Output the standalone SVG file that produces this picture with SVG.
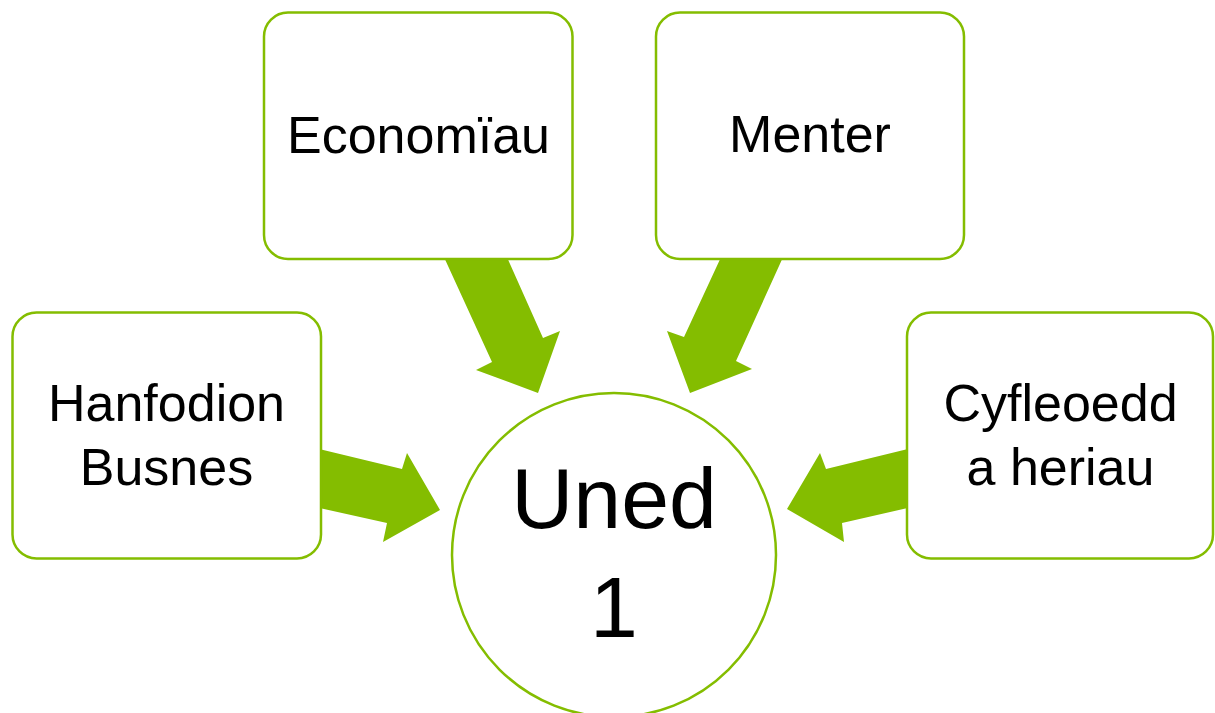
<svg xmlns="http://www.w3.org/2000/svg" width="1215" height="713" viewBox="0 0 1215 713">
<style>
.box{fill:#fff;stroke:#84BD00;stroke-width:2.5}
.arrow{fill:#84BD00;stroke:none}
.lbl{font-family:"Liberation Sans",Arial,sans-serif;font-size:52px;fill:#000;text-anchor:middle}
.big{font-family:"Liberation Sans",Arial,sans-serif;font-size:86px;fill:#000;text-anchor:middle}
</style>
<rect width="1215" height="713" fill="#fff"/>
<g id="connectors">
<polygon class="arrow" points="443,255 506,255 543,338 560,331 538,393 476,370 492,362"/>
<polygon class="arrow" points="722,255 784,255 736,361 752,369 690,393 667,331 684,337"/>
<polygon class="arrow" points="315,448 402,469 407,453 440,510 383,542 387,523 315,507"/>
<polygon class="arrow" points="912,448 826,469 820,453 787,509 844,542 842,523 912,507"/>
</g>
<g id="economiau">
<rect class="box" x="264" y="12.5" width="308.5" height="246.5" rx="24"/>
<text class="lbl" x="418.5" y="153">Economïau</text>
</g>
<g id="menter">
<rect class="box" x="656" y="12.5" width="308" height="246.5" rx="24"/>
<text class="lbl" x="810" y="152">Menter</text>
</g>
<g id="hanfodion">
<rect class="box" x="12.5" y="312.5" width="308.5" height="246" rx="24"/>
<text class="lbl" x="166.5" y="421">Hanfodion</text>
<text class="lbl" x="166.5" y="485">Busnes</text>
</g>
<g id="cyfleoedd">
<rect class="box" x="907" y="312.5" width="306" height="246" rx="24"/>
<text class="lbl" x="1060.5" y="421">Cyfleoedd</text>
<text class="lbl" x="1060.5" y="485">a heriau</text>
</g>
<g id="uned">
<circle class="box" cx="614" cy="555" r="162"/>
<text class="big" x="614" y="528">Uned</text>
<text class="big" x="614" y="637">1</text>
</g>
</svg>
